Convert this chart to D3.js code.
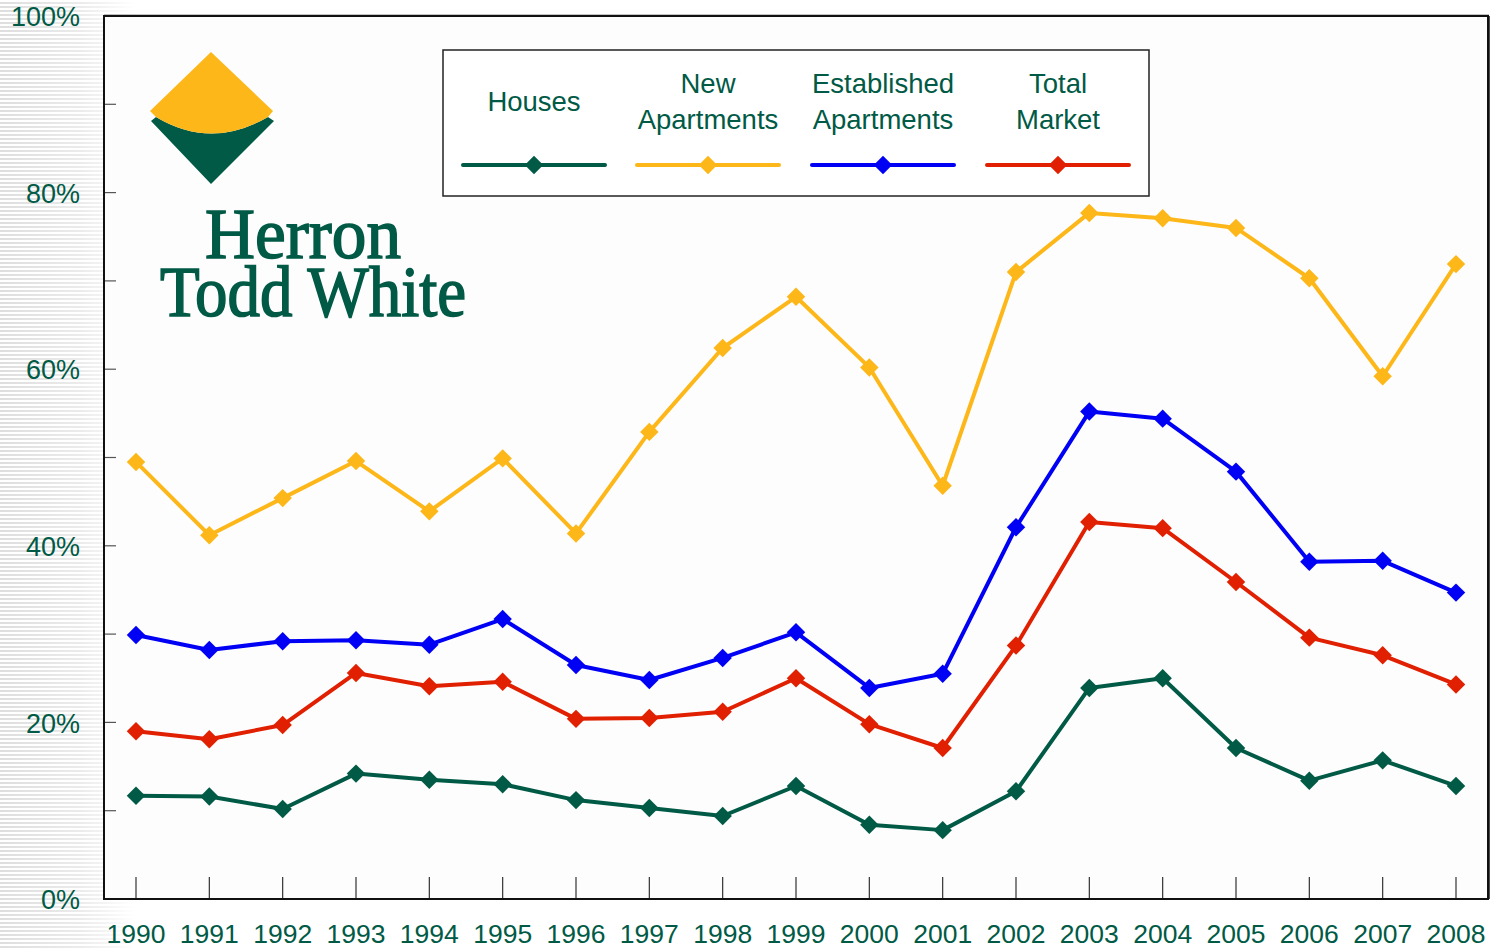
<!DOCTYPE html>
<html>
<head>
<meta charset="utf-8">
<script src="https://cdn.jsdelivr.net/npm/d3@7"></script>
<style>
  body { margin: 0; background: #fff; }
  svg { display: block; }
</style>
</head>
<body>
<svg id="chart"></svg>
<script>
// data (percent)
const years = [1990,1991,1992,1993,1994,1995,1996,1997,1998,1999,2000,2001,2002,2003,2004,2005,2006,2007,2008];
const houses      = [11.7,11.6,10.2,14.2,13.5,13.0,11.2,10.3,9.4,12.8,8.4,7.8,12.2,23.9,25.0,17.1,13.4,15.7,12.8];
const newApts     = [49.5,41.2,45.4,49.6,43.9,49.9,41.4,52.9,62.4,68.2,60.2,46.8,71.0,77.7,77.1,76.0,70.3,59.2,71.9];
const establApts  = [29.9,28.2,29.2,29.3,28.8,31.7,26.5,24.8,27.3,30.2,23.9,25.5,42.1,55.2,54.4,48.4,38.2,38.3,34.7];
const totalMarket = [19.0,18.1,19.7,25.6,24.1,24.6,20.4,20.5,21.2,25.0,19.8,17.1,28.7,42.7,42.0,35.9,29.6,27.6,24.3];
const yTicks = [0,20,40,60,80,100];
const seriesNames = [["Houses"],["New","Apartments"],["Established","Apartments"],["Total","Market"]];
const seriesColors = ["#005a45","#fdb719","#0000f5","#e02000"];

const W = 1490, H = 948;
const plot = {left: 104, top: 16, right: 1488, bottom: 899};
const textGreen = "#005a45";

const svg = d3.select("#chart").attr("width", W).attr("height", H);
const defs = svg.append("defs");

// striped grey background fading out to the right
const pat = defs.append("pattern").attr("id","stripes").attr("patternUnits","userSpaceOnUse")
  .attr("width", 10).attr("height", 4);
pat.append("rect").attr("width",10).attr("height",4).attr("fill","#ffffff");
pat.append("rect").attr("y",2).attr("width",10).attr("height",2).attr("fill","#dedede");
const grad = defs.append("linearGradient").attr("id","fade").attr("x1",0).attr("x2",1);
grad.append("stop").attr("offset","0").attr("stop-color","#fff").attr("stop-opacity",1);
grad.append("stop").attr("offset","0.6").attr("stop-color","#fff").attr("stop-opacity",0.6);
grad.append("stop").attr("offset","1").attr("stop-color","#fff").attr("stop-opacity",0);
const mask = defs.append("mask").attr("id","fadeMask");
mask.append("rect").attr("width",135).attr("height",H).attr("fill","url(#fade)");
svg.append("rect").attr("width",135).attr("height",H).attr("fill","url(#stripes)").attr("mask","url(#fadeMask)");

// plot area
svg.append("rect").attr("x",plot.left).attr("y",plot.top)
  .attr("width",plot.right-plot.left).attr("height",plot.bottom-plot.top)
  .attr("fill","#fdfdfd");

const x = d3.scalePoint().domain(years).range([136, 1456]);
const y = d3.scaleLinear().domain([0,100]).range([plot.bottom, plot.top]);

// minor y ticks (inside)
svg.append("g").selectAll("line").data(d3.range(10,100,10)).join("line")
  .attr("x1", plot.left).attr("x2", plot.left+12)
  .attr("y1", d => y(d)).attr("y2", d => y(d))
  .attr("stroke","#555").attr("stroke-width",1.2);

// x ticks (inside, upward)
svg.append("g").selectAll("line").data(years).join("line")
  .attr("x1", d => x(d)).attr("x2", d => x(d))
  .attr("y1", plot.bottom).attr("y2", plot.bottom-22)
  .attr("stroke","#333").attr("stroke-width",1.2);

// frame
svg.append("rect").attr("x",plot.left).attr("y",plot.top)
  .attr("width",plot.right-plot.left).attr("height",plot.bottom-plot.top)
  .attr("fill","none").attr("stroke","#111").attr("stroke-width",2);
svg.append("line").attr("x1",plot.left).attr("x2",plot.right+1).attr("y1",plot.top-0.5).attr("y2",plot.top-0.5)
  .attr("stroke","#111").attr("stroke-width",1.5);
svg.append("line").attr("x1",plot.right+1).attr("x2",plot.right+1).attr("y1",plot.top).attr("y2",plot.bottom)
  .attr("stroke","#111").attr("stroke-width",1.5);

// axis labels
svg.append("g").selectAll("text").data(yTicks).join("text")
  .attr("x", 80).attr("y", d => y(d)).attr("dy","0.38em")
  .attr("text-anchor","end")
  .attr("font-family","Liberation Sans, Arial, sans-serif").attr("font-size",27)
  .attr("fill",textGreen).text(d => d + "%");
svg.append("g").selectAll("text").data(years).join("text")
  .attr("x", d => x(d)).attr("y", 943)
  .attr("text-anchor","middle")
  .attr("font-family","Liberation Sans, Arial, sans-serif").attr("font-size",26.5)
  .attr("fill",textGreen).text(d => d);

// logo
const logo = svg.append("g");
logo.append("path").attr("d","M151,121 L211,184 L274,121 L268,117 Q211,150 156,117 Z").attr("fill","#005a45");
logo.append("path").attr("d","M211,52 L273,111 L268,117 Q211,150 156,117 L150,111 Z").attr("fill","#fdb719");
const brand = logo.append("text")
  .attr("font-family","Liberation Serif, Times New Roman, serif").attr("font-size",72)
  .attr("fill","#005a45").attr("stroke","#005a45").attr("stroke-width",1.6);
brand.append("tspan").attr("x",205).attr("y",258).attr("textLength",196).attr("lengthAdjust","spacingAndGlyphs").text("Herron");
brand.append("tspan").attr("x",160).attr("y",316).attr("textLength",306).attr("lengthAdjust","spacingAndGlyphs").text("Todd White");

// series lines
const allSeries = [houses, newApts, establApts, totalMarket];
const line = d3.line().x((d,i) => x(years[i])).y(d => y(d));

allSeries.forEach((vals, k) => {
  const g = svg.append("g");
  g.append("path").datum(vals).attr("d", line)
    .attr("fill","none").attr("stroke", seriesColors[k]).attr("stroke-width",4)
    .attr("stroke-linejoin","round");
  g.selectAll("path.m").data(vals).join("path").attr("class","m")
    .attr("transform",(d,i) => `translate(${x(years[i])},${y(d)}) rotate(45)`)
    .attr("d", d3.symbol().type(d3.symbolSquare).size(170))
    .attr("fill", seriesColors[k]);
});

// legend
const leg = svg.append("g");
leg.append("rect").attr("x",443).attr("y",50).attr("width",706).attr("height",146)
  .attr("fill","#fff").attr("stroke","#222").attr("stroke-width",1.5);
const legX = [534, 708, 883, 1058];
seriesNames.forEach((lines, k) => {
  const cx = legX[k];
  const t = leg.append("text").attr("text-anchor","middle")
    .attr("font-family","Liberation Sans, Arial, sans-serif").attr("font-size",27.5)
    .attr("fill",textGreen);
  if (lines.length === 1) {
    t.append("tspan").attr("x",cx).attr("y",111).text(lines[0]);
  } else {
    t.append("tspan").attr("x",cx).attr("y",93).text(lines[0]);
    t.append("tspan").attr("x",cx).attr("y",129).text(lines[1]);
  }
  leg.append("line").attr("x1",cx-71).attr("x2",cx+71).attr("y1",165).attr("y2",165)
    .attr("stroke",seriesColors[k]).attr("stroke-width",4).attr("stroke-linecap","round");
  leg.append("path").attr("transform",`translate(${cx},165) rotate(45)`)
    .attr("d", d3.symbol().type(d3.symbolSquare).size(170)).attr("fill",seriesColors[k]);
});
</script>
</body>
</html>
